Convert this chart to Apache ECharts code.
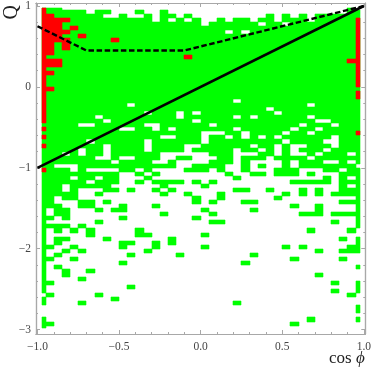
<!DOCTYPE html>
<html><head><meta charset="utf-8">
<style>html,body{margin:0;padding:0;background:#fff;overflow:hidden}#c{width:374px;height:369px}</style>
<script src="https://cdn.jsdelivr.net/npm/echarts@6/dist/echarts.min.js"></script>
</head><body><div id="c"></div>
<script>
const xMajor=[-1,-0.5,0,0.5,1];
const xMinor=[-0.9,-0.8,-0.7,-0.6,-0.4,-0.3,-0.2,-0.1,0.1,0.2,0.3,0.4,0.6,0.7,0.8,0.9];
const yMajor=[-3,-2,-1,0,1];
const yMinor=[-2.8,-2.6,-2.4,-2.2,-1.8,-1.6,-1.4,-1.2,-0.8,-0.6,-0.4,-0.2,0.2,0.4,0.6,0.8];
const xTickLabels=['−1.0','−0.5','0.0','0.5','1.0'];
const yTickLabels=['−3','−2','−1','0','1'];
const solidLine=[[-1,-1],[1,1]];
const dashedLine=[[-1,0.75],[-0.7,0.45],[-0.1,0.45],[1,1]];
const greenRows=[
"0-2 38","0-5 7-8 12 15 38-39","0-7 10 13 15-16 18 28 30 32 34-39","0-13 15 17 19 22 24-25 27-28 30-32 34-39",
"0-19 21-26 28-29 31-39","0-39","0-22 24 26-39","0-39","0-39","0-39","0-39","0-39","0-39","0-39","0-39","0-39","0-39","0-39","0-39","0-39","0-39","0-39","0-39",
"0-23 25-39","0-10 12-32 34-39","0-27 29-39","0-12 14-16 18 20-28 30-39","0-6 8-16 18-23 25 27-32 34-39",
"0-7 9-18 20-33 36-39","0-4 7-12 15-20 22-31 33-35 37-39","0-9 12-13 15 17-23 25-30 32-33 35-39",
"0-19 23-24 26-29 31-32 34-39","0-14 17-19 21-22 24 26 28 30-35 37-39","0-5 7-12 14-19 21-29 31-34 37-39",
"0-7 9-12 14-17 20-25 27-28 30 33-35 37-39","0-4 6-7 9-12 14-17 19-23 25-26 28 30 32-34 36-39",
"0-2 4 6-7 9-14 21-23 27-28 30 33 35-37 39","0-6 9 12-14 17-18 22-23 25-27 29-32 34-39",
"0-8 10-13 16 21-23 25 30 32-34 37 39","0-1 5-16 19-22 25 27 30 32-38",
"0-3 5 10-11 13 18-20 22 25 29-31 35-36 38-39","0-9 12 14 23 26-27 29-31 33 37-39","0-3 5-6 8-9 13 24 35 37 39",
"0-5 7-9 12 14-17 19 21 31-35 37-39","0-2 4-8 15 20 37 39","0-2 4 8-9 11 14 16 24-25 28 32 34 37-39",
"0-4 7 15 18 22 30 32 34 36-39","0-1 3-4 19 22 29 39","0-1 5-6 8 19 21 25-26 37-39","0-2 5-6 10 14 31 34 39",
"0 2-3 7 9-10 20 26 34 39","0 2-3 15 21 32-34 36-39","0-1 3 10 19 39","0 7 21-22 36 39","0-3 5 39",
"0 2 4 6 12 33 38","0 6 12-13 20","0 2-3 8 16 37 39","0 2 10-11 14 16 39","0-1 4 10 14 20 30 32 38-39",
"0 3 5 13 34 37-39","0 2 11 17 26","0-1 4 31 37","0 10 25","0 2 39","0 3 6","0 3 34","0 5","0-1 36 39","0 11 39",
"0 36 39","1 7 38","0 9","0 5 24","39","39","","0 33 39","0-1 31","0"];
const redRows=[
"0","0","0-1","0-3 39","0-2 39","0-2 4 39","0-3 39","0-2 5 39","0-3 9 39","0-1 3 39","0-1 3 39","0-1 39","0 18 39","0-2 38-39","0-2 39","0 39","0-1 39","0 39","0 39","0 39","0-1","0 39","0 39",
"0","0","0","0","0","0","","0","39","0","","0","","","","","","0"];
function cells(rows){const out=[];rows.forEach((s,r)=>{s.split(' ').filter(Boolean).forEach(t=>{const p=t.split('-').map(Number);const a=p[0],b=p.length>1?p[1]:a;for(let c=a;c<=b;c++)out.push([c,r]);});});return out;}
function renderCell(color){return function(params,api){
  const c=api.value(0),r=api.value(1);
  const x0=Math.max(-0.975,-1+0.05*c),x1=Math.min(0.975,-1+0.05*(c+1));
  const y1=Math.min(0.975,1-0.05*r),y0=Math.max(-2.975,1-0.05*(r+1));
  const a=api.coord([x0,y1]),b=api.coord([x1,y0]);
  const l=Math.round(a[0]),t=Math.round(a[1]),w=Math.round(b[0])-l,h=Math.round(b[1])-t;
  return {type:'rect',shape:{x:l,y:t,width:w,height:h},style:{fill:color,stroke:color,lineWidth:0.6}};
};}
const frame={lineStyle:{color:'#a8a8a8',width:1.2}};
const lbl={color:'#444',fontFamily:'Liberation Serif',fontSize:11.5};
const xr={type:'value',min:-1.009,max:1.009,splitLine:{show:false},axisLine:Object.assign({show:true,onZero:false},frame)};
const yr={type:'value',min:-3.054,max:1.037,splitLine:{show:false},axisLine:Object.assign({show:true,onZero:false},frame)};
function ax(base,pos,vals,len,labels,texts){
  return Object.assign({},base,{position:pos,
    axisTick:{show:true,inside:true,length:len,customValues:vals,lineStyle:{color:'#a8a8a8',width:1}},
    axisLabel:labels?Object.assign({},lbl,{show:true,margin:base===xr?7:5,customValues:vals,showMinLabel:true,showMaxLabel:true,hideOverlap:false,
      formatter:v=>texts[vals.indexOf(v)]}):{show:false}});
}
const option={animation:false,
 grid:{left:36,top:3,width:331,height:331,containLabel:false},
 xAxis:[ax(xr,'bottom',xMajor,4,true,xTickLabels),ax(xr,'bottom',xMinor,2),ax(xr,'top',xMajor,4),ax(xr,'top',xMinor,2)],
 yAxis:[ax(yr,'left',yMajor,4,true,yTickLabels),ax(yr,'left',yMinor,2),ax(yr,'right',yMajor,4),ax(yr,'right',yMinor,2)],
 series:[
  {type:'custom',renderItem:renderCell('#00ff00'),data:cells(greenRows),silent:true,clip:false,encode:{x:0,y:1}},
  {type:'custom',renderItem:renderCell('#ff0000'),data:cells(redRows),silent:true,clip:false,encode:{x:0,y:1}},
  {type:'line',data:solidLine,showSymbol:false,symbol:'none',lineStyle:{color:'#000',width:2.6}},
  {type:'line',data:dashedLine,showSymbol:false,symbol:'none',lineStyle:{color:'#000',width:2.4,type:[5.5,2.6]}}
 ],
 graphic:[
  {type:'text',left:2,top:5,rotation:Math.PI/2,originX:0,originY:0,style:{text:'Q',fill:'#222',font:'20px "Liberation Serif"',x:0,y:0}},
  {type:'text',left:329,top:350,style:{rich:{a:{font:'17px "Liberation Serif"',fill:'#222'},b:{font:'italic 17px "Liberation Serif"',fill:'#222'}},text:'cos {b|ϕ}',font:'17px "Liberation Serif"',fill:'#222'}}
 ]};
const chart=echarts.init(document.getElementById('c'),null,{renderer:'canvas'});
chart.setOption(option);
</script></body></html>
